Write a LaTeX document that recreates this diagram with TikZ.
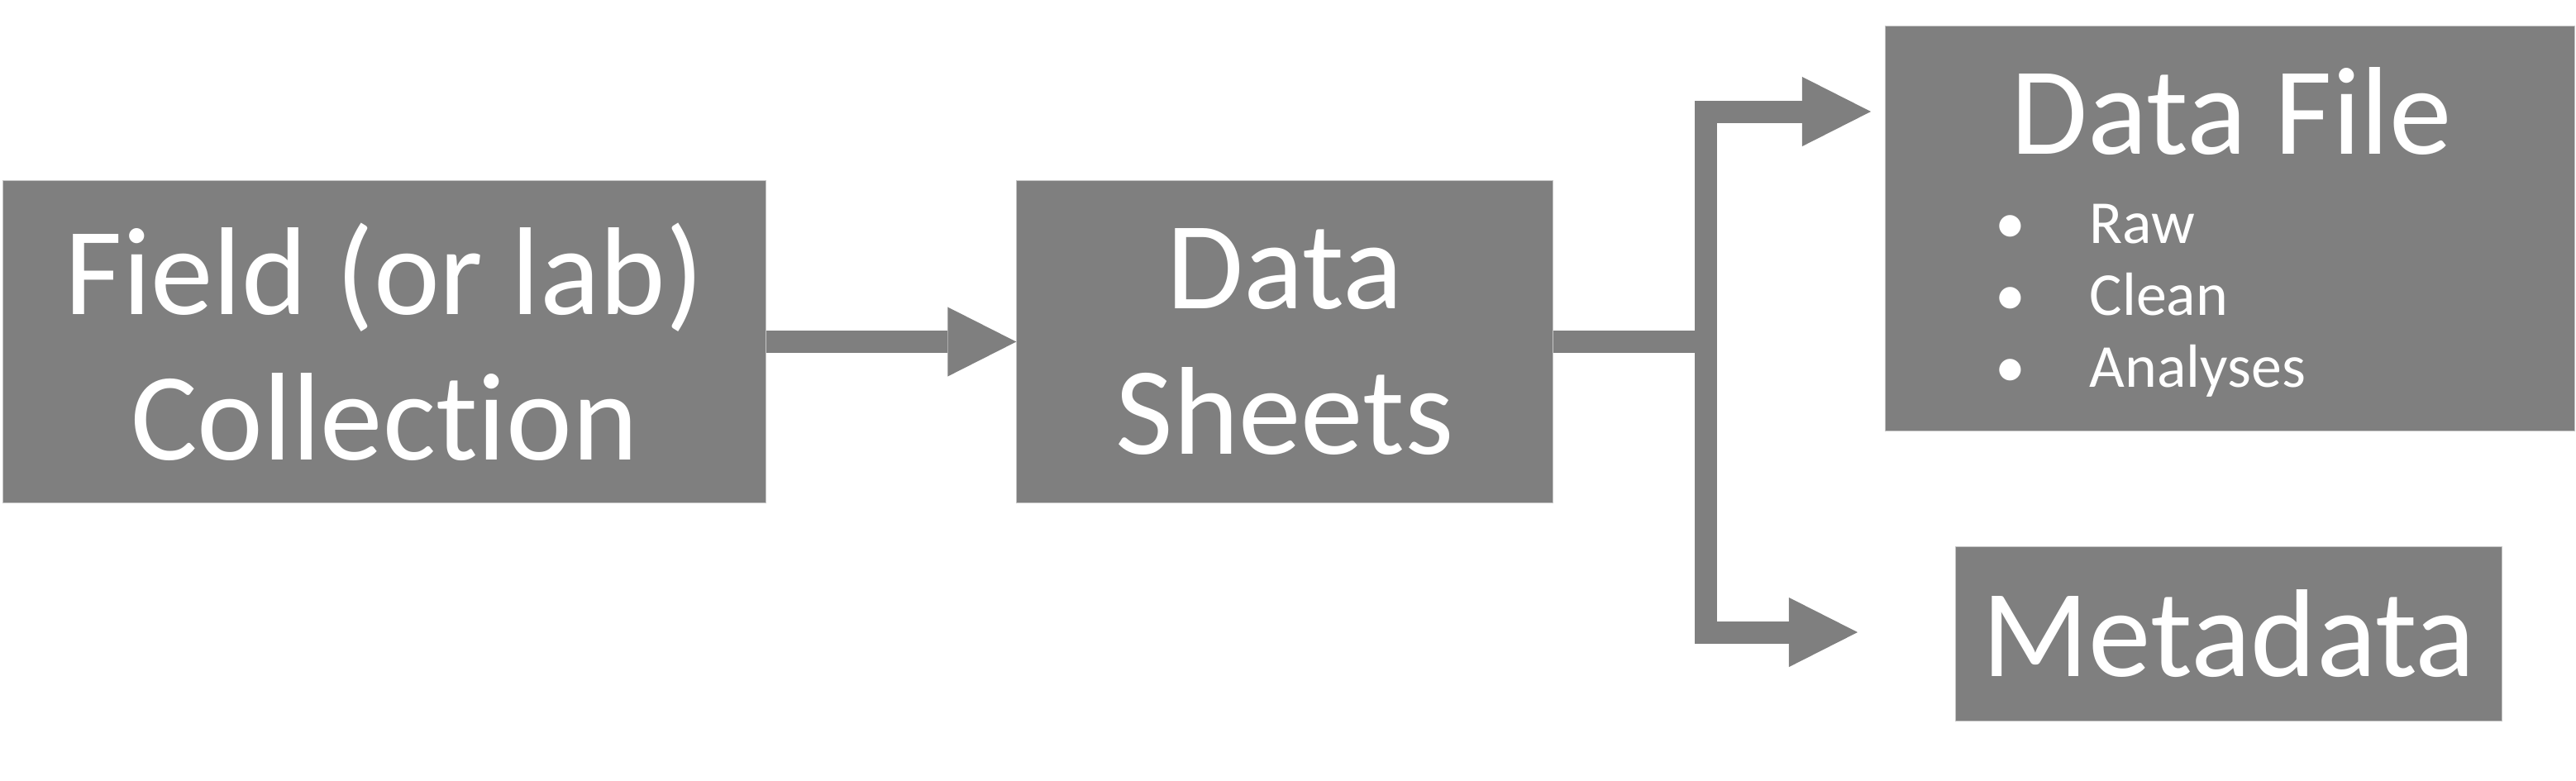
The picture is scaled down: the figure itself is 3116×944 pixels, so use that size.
\documentclass[tikz,border=0pt]{standalone}
\usepackage{fontspec}
\setmainfont{Carlito}[Ligatures=NoCommon]
\usetikzlibrary{arrows.meta}
\definecolor{boxgray}{RGB}{127,127,127}

\begin{document}
\begin{tikzpicture}[x=0.01cm,y=-0.01cm,
    box/.style={fill=boxgray, draw=gray!45, line width=0.3pt, text=white, align=center,
        inner sep=0pt, font=\fontsize{43}{50}\selectfont},
    item/.style={text=white, inner sep=0pt, font=\fontsize{21}{25}\selectfont},
    conn/.style={draw=boxgray, line width=0.27cm,
        -{Triangle[length=0.83cm,width=0.84cm,line width=0pt]}}]
    \useasboundingbox (0,0) rectangle (3116,944);

    % boxes
    \node[box, minimum width=9.22cm, minimum height=3.89cm] (field) at (465,413.5) {Field (or lab)\\Collection};
    \node[box, minimum width=6.48cm, minimum height=3.89cm] (sheets) at (1554,413.5) {Data\\Sheets};
    \node[box, minimum width=8.33cm, minimum height=4.89cm] (file) at (2697.5,276.5) {};
    \node[box, minimum width=6.60cm, minimum height=2.10cm] (meta) at (2696,767) {Metadata};

    % contents of the data file box
    \node[box, draw=none, anchor=base] (filetitle) at (2699,186) {Data File};
    \foreach \name/\txt/\yy in {raw/Raw/294, clean/Clean/381, ana/Analyses/468} {
        \node[item, anchor=base] (bul\name) at (2432,\yy) {\textbullet};
        \node[item, anchor=base west] (\name) at (2527,\yy) {\txt};
    }

    % connectors
    \coordinate (fork) at (2063.5,413.5);
    \coordinate (fileend) at (2263,135);
    \coordinate (metaend) at (2247,765);
    \draw[conn] (field.east) -- (sheets.west);
    \draw[conn] (sheets.east) -- (fork) |- (fileend);
    \draw[conn] (fork) |- (metaend);
\end{tikzpicture}
\end{document}
